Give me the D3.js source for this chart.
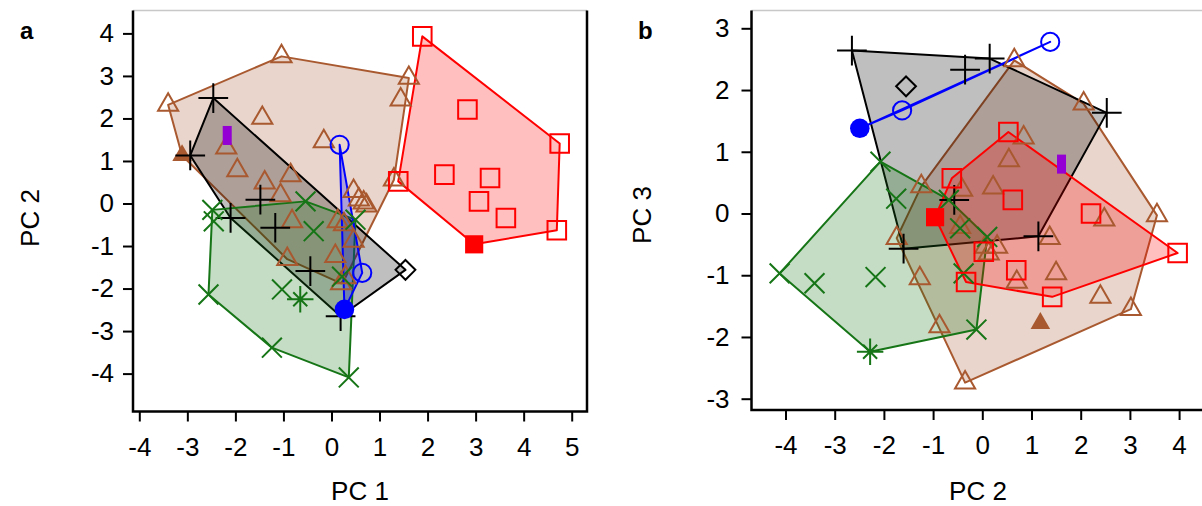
<!DOCTYPE html>
<html>
<head>
<meta charset="utf-8">
<script src="https://cdn.jsdelivr.net/npm/d3@7"></script>
<style>
  body { margin: 0; background: #fff; }
  svg text { font-family: Arial, "Liberation Sans", sans-serif; fill: #000; }
</style>
</head>
<body>
<div id="chart"></div>
<script>
// ---- panel a : PC 1 (x) vs PC 2 (y) ----
var aBrown = [[-1.04, 3.46], [-3.40, 2.32], [-1.44, 2.01], [-2.19, 1.31], [-1.96, 0.78], [-1.39, 0.49],
  [-0.85, 0.66], [-1.06, 0.19], [-0.16, 1.46], [0.46, 0.29], [0.67, 0.02], [1.61, 2.95], [1.44, 2.44],
  [1.30, 0.56], [-0.82, -0.42], [-0.92, -1.31], [0.57, 0.09], [0.73, -0.05], [0.13, -0.42], [0.26, -0.49],
  [0.46, -0.88], [0.08, -1.24], [0.29, -1.74], [0.20, -1.88]];
var aBrownRef = [[-3.11, 1.13]];
var aBlack = [[-2.46, 2.48], [-2.94, 1.13], [-1.48, 0.09], [-1.17, -0.57], [-2.10, -0.34], [-0.44, -1.59], [0.19, -2.65]];
var aBlackRef = [[1.54, -1.56]];
var aGreen = [[-2.48, -0.15], [-2.45, -0.42], [-0.37, -0.65], [-0.54, 0.05], [-2.56, -2.14], [-1.03, -2.02],
  [-1.24, -3.39], [0.36, -4.09], [0.50, -0.38], [0.22, -1.72]];
var aGreenRef = [[-0.65, -2.25]];
var aRed = [[1.89, 3.93], [2.83, 2.21], [4.75, 1.41], [2.35, 0.68], [3.30, 0.60], [1.39, 0.52], [3.07, 0.05],
  [3.63, -0.34], [4.69, -0.63]];
var aRedRef = [[2.97, -0.96]];
var aBlue = [[0.17, 1.38], [0.64, -1.63]];
var aBlueRef = [[0.27, -2.49]];
var aPurple = [[-2.17, 1.60]];
var aTicksX = [-4, -3, -2, -1, 0, 1, 2, 3, 4, 5];
var aTicksY = [-4, -3, -2, -1, 0, 1, 2, 3, 4];

// ---- panel b : PC 2 (x) vs PC 3 (y) ----
var bBrown = [[0.65, 2.48], [2.06, 1.78], [0.84, 1.23], [0.54, 0.86], [0.22, 0.42], [-1.24, 0.44], [-0.41, 0.38],
  [-1.74, -0.40], [-0.45, -0.22], [0.06, -0.54], [0.30, -0.54], [0.13, -0.65], [1.37, -0.40], [1.50, -0.97],
  [0.70, -1.11], [-1.27, -1.05], [-0.87, -1.83], [-0.35, -2.74], [2.48, -0.10], [3.55, -0.03], [2.40, -1.35],
  [3.02, -1.55]];
var bBrownRef = [[1.18, -1.78]];
var bBlack = [[-2.65, 2.64], [-0.35, 2.33], [0.15, 2.51], [2.53, 1.63], [1.14, -0.37], [-1.60, -0.57], [-0.57, 0.22]];
var bBlackRef = [[-1.55, 2.06]];
var bGreen = [[-2.07, 0.84], [-1.75, 0.24], [-4.12, -0.97], [-3.41, -1.13], [-2.17, -1.03], [-0.12, -1.88],
  [-0.45, -0.24], [0.10, -0.38], [-0.38, -0.97], [-0.68, 0.22]];
var bGreenRef = [[-2.28, -2.24]];
var bRed = [[0.53, 1.32], [-0.62, 0.57], [0.62, 0.22], [0.03, -0.62], [0.69, -0.92], [-0.33, -1.11], [1.42, -1.35],
  [2.21, 0.00], [3.97, -0.64]];
var bRedRef = [[-0.96, -0.06]];
var bBlue = [[-1.63, 1.67], [1.38, 2.78]];
var bBlueRef = [[-2.49, 1.38]];
var bPurple = [[1.61, 0.80]];
var bTicksX = [-4, -3, -2, -1, 0, 1, 2, 3, 4];
var bTicksY = [-3, -2, -1, 0, 1, 2, 3];

// styles per group
var styles = {
  brown: { color: "#a9592f", open: "triangle", ref: "triangleFilled" },
  black: { color: "#000000", open: "plus", ref: "diamond" },
  green: { color: "#167516", open: "times", ref: "asterisk" },
  red:   { color: "#ff0000", open: "square", ref: "squareFilled" },
  blue:  { color: "#0000ff", open: "circle", ref: "circleFilled" }
};

var svg = d3.select("#chart").append("svg")
  .attr("width", 1202)
  .attr("height", 506);

function markerPath(kind) {
  var s = d3.symbol();
  switch (kind) {
    case "triangle": return s.type(d3.symbolTriangle2).size(290)();
    case "triangleFilled": return s.type(d3.symbolTriangle).size(165)();
    case "plus": return s.type(d3.symbolPlus).size(290)();
    case "diamond": return s.type(d3.symbolDiamond2).size(250)();
    case "times": return s.type(d3.symbolTimes).size(260)();
    case "asterisk": return s.type(d3.symbolPlus).size(230)() + s.type(d3.symbolTimes).size(130)();
    case "square": return s.type(d3.symbolSquare2).size(440)();
    case "squareFilled": return s.type(d3.symbolSquare).size(330)();
    case "circle": return s.type(d3.symbolCircle).size(260)();
    case "circleFilled": return s.type(d3.symbolCircle).size(300)();
  }
}

function drawPanel(opt) {
  var x = d3.scaleLinear().domain(opt.xDomain).range(opt.xRange);
  var y = d3.scaleLinear().domain(opt.yDomain).range(opt.yRange);
  var g = svg.append("g");
  var f = opt.frame;

  // hulls
  var hulls = g.append("g");
  opt.sets.forEach(function(s) {
    var st = styles[s.key];
    var pts = s.pts.concat(s.ref).map(function(d) { return [x(d[0]), y(d[1])]; });
    var hull = d3.polygonHull(pts);
    hulls.append("path")
      .attr("d", "M" + hull.join("L") + "Z")
      .attr("fill", st.color)
      .attr("fill-opacity", 0.25)
      .attr("stroke", st.color)
      .attr("stroke-width", 2)
      .attr("stroke-linejoin", "round");
  });

  // points
  var marks = g.append("g");
  opt.sets.forEach(function(s) {
    var st = styles[s.key];
    marks.append("g").selectAll("path")
      .data(s.pts)
      .enter()
      .append("path")
      .attr("transform", function(d) { return "translate(" + x(d[0]) + "," + y(d[1]) + ")"; })
      .attr("d", markerPath(st.open))
      .attr("fill", "none")
      .attr("stroke", st.color)
      .attr("stroke-width", 2);
    var filled = st.ref.indexOf("Filled") > -1;
    marks.append("g").selectAll("path")
      .data(s.ref)
      .enter()
      .append("path")
      .attr("transform", function(d) { return "translate(" + x(d[0]) + "," + y(d[1]) + ")"; })
      .attr("d", markerPath(st.ref))
      .attr("fill", filled ? st.color : "none")
      .attr("stroke", filled ? "none" : st.color)
      .attr("stroke-width", 2);
  });
  marks.selectAll("rect.purple")
    .data(opt.purple)
    .enter()
    .append("rect")
    .attr("class", "purple")
    .attr("x", function(d) { return x(d[0]) - 4.5; })
    .attr("y", function(d) { return y(d[1]) - 9.5; })
    .attr("width", 9)
    .attr("height", 19)
    .attr("fill", "#9400d3");

  // frame
  g.append("line").attr("x1", f.left).attr("x2", f.right).attr("y1", f.top).attr("y2", f.top)
    .attr("stroke", "#c8c8c8").attr("stroke-width", 1.5);
  g.append("path")
    .attr("d", "M" + f.left + "," + f.top + "V" + f.bottom + "H" + f.right + "V" + f.top)
    .attr("fill", "none").attr("stroke", "#000").attr("stroke-width", 2.5);

  // axes
  var xAxis = g.append("g")
    .attr("transform", "translate(0," + f.bottom + ")")
    .call(d3.axisBottom(x).tickValues(opt.ticksX).tickSize(10).tickPadding(16)
      .tickFormat(function(d) { return String(d); }));
  var yAxis = g.append("g")
    .attr("transform", "translate(" + f.left + ",0)")
    .call(d3.axisLeft(y).tickValues(opt.ticksY).tickSize(10).tickPadding(opt.yPad)
      .tickFormat(function(d) { return String(d); }));
  [xAxis, yAxis].forEach(function(a) {
    a.select(".domain").remove();
    a.selectAll(".tick line").attr("stroke-width", 2);
    a.selectAll(".tick text").attr("font-size", 26).attr("font-family", null);
  });

  // titles
  g.append("text")
    .attr("x", opt.xTitle[0]).attr("y", opt.xTitle[1])
    .attr("text-anchor", "middle")
    .attr("font-size", 26)
    .text(opt.xLabel);
  g.append("text")
    .attr("transform", "translate(" + opt.yTitle[0] + "," + opt.yTitle[1] + ") rotate(-90)")
    .attr("text-anchor", "middle")
    .attr("font-size", 26)
    .text(opt.yLabel);
  g.append("text")
    .attr("x", opt.tag[0]).attr("y", opt.tag[1])
    .attr("font-size", 24)
    .attr("font-weight", "bold")
    .text(opt.tagText);
}

drawPanel({
  xDomain: [-4, 5], xRange: [139.3, 571.7],
  yDomain: [-4, 4], yRange: [373.6, 33.4],
  frame: { left: 133, right: 587, top: 10.5, bottom: 411.5 },
  ticksX: aTicksX, ticksY: aTicksY, yPad: 9,
  sets: [
    { key: "brown", pts: aBrown, ref: aBrownRef },
    { key: "black", pts: aBlack, ref: aBlackRef },
    { key: "green", pts: aGreen, ref: aGreenRef },
    { key: "red", pts: aRed, ref: aRedRef },
    { key: "blue", pts: aBlue, ref: aBlueRef }
  ],
  purple: aPurple,
  xLabel: "PC 1", xTitle: [360, 500],
  yLabel: "PC 2", yTitle: [39, 218],
  tagText: "a", tag: [20, 39]
});

drawPanel({
  xDomain: [-4, 4], xRange: [785.5, 1179.1],
  yDomain: [-3, 3], yRange: [398.7, 28.3],
  frame: { left: 751.5, right: 1215, top: 10.5, bottom: 410 },
  ticksX: bTicksX, ticksY: bTicksY, yPad: 12,
  sets: [
    { key: "brown", pts: bBrown, ref: bBrownRef },
    { key: "black", pts: bBlack, ref: bBlackRef },
    { key: "green", pts: bGreen, ref: bGreenRef },
    { key: "red", pts: bRed, ref: bRedRef },
    { key: "blue", pts: bBlue, ref: bBlueRef }
  ],
  purple: bPurple,
  xLabel: "PC 2", xTitle: [978, 500],
  yLabel: "PC 3", yTitle: [651, 215],
  tagText: "b", tag: [638, 39]
});
</script>
</body>
</html>
